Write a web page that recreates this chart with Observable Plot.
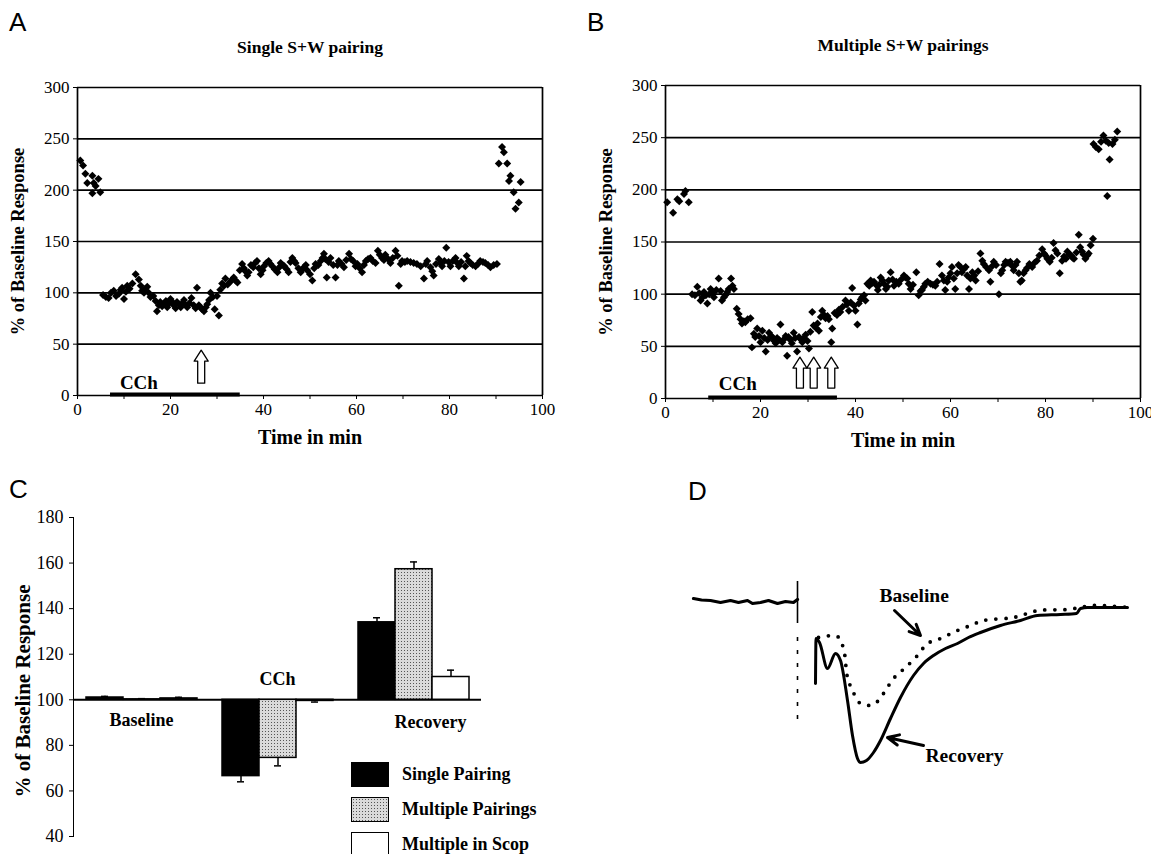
<!DOCTYPE html>
<html>
<head>
<meta charset="utf-8">
<script src="https://cdn.jsdelivr.net/npm/d3@7"></script>
<script src="https://cdn.jsdelivr.net/npm/@observablehq/plot@0.6"></script>
<style>
  html, body { margin: 0; padding: 0; background: white; }
  #fig { position: relative; width: 1151px; height: 854px; overflow: hidden; font-family: "Liberation Serif", serif; color: black; }
  .panel { position: absolute; }
  .letter { position: absolute; font-family: "Liberation Sans", Arial, sans-serif; font-size: 26px; line-height: 1; }
  .leg { position: absolute; font-family: "Liberation Serif", serif; font-weight: bold; font-size: 18px; line-height: 1; white-space: nowrap; }
  .sw { position: absolute; width: 38px; height: 24px; border: 1.5px solid black; box-sizing: border-box; }
  .ylab { position: absolute; font-family: "Liberation Serif", serif; font-weight: bold; white-space: nowrap; transform: translate(-50%, -50%) rotate(-90deg); line-height: 1; }
</style>
</head>
<body>
<div id="fig">
  <div class="letter" style="left:9px;top:9px">A</div>
  <div class="letter" style="left:587px;top:9px">B</div>
  <div class="letter" style="left:9px;top:476px">C</div>
  <div class="letter" style="left:688px;top:478px">D</div>
  <div class="ylab" style="left:23px;top:691px;font-size:21px">% of Baseline Response</div>
</div>
<script>
// ---------------- Panel A data: Single S+W pairing ----------------
const aTime = [0.6,1.2,1.7,2.1,3.2,3.5,3.9,4.5,3.2,4.9,
5.5,6.1,6.7,7.2,7.8,8.3,8.9,9.3,9.6,10.0,10.4,10.7,11.2,11.8,12.5,13.2,13.6,13.9,14.3,14.6,15.0,15.3,15.7,16.3,16.8,17.1,17.5,17.8,18.2,18.6,
19.0,19.3,19.7,20.0,20.4,20.7,21.1,21.4,21.8,22.2,22.6,22.9,23.3,23.6,24.1,24.5,25.0,25.4,25.7,26.1,26.4,26.8,27.2,27.6,27.9,28.3,28.6,29.1,29.5,30.0,
30.4,30.7,31.1,31.5,31.8,32.3,32.9,33.3,33.6,34.0,34.4,34.9,35.4,35.8,36.1,36.5,36.8,37.3,37.8,38.2,38.6,39.0,39.4,39.8,40.1,40.6,41.1,41.5,41.9,42.4,
43.0,43.4,43.7,44.1,44.5,45.0,45.4,45.8,46.2,46.6,46.9,47.5,48.0,48.4,48.7,49.1,49.4,50.0,50.5,50.9,51.2,51.8,52.3,52.7,53.0,53.3,53.6,54.0,54.4,55.0,
55.5,55.9,56.2,56.8,57.3,57.8,58.4,58.8,59.3,59.8,60.2,60.7,61.2,61.6,62.0,62.5,63.0,63.5,64.1,64.6,65.0,65.5,65.9,66.2,66.8,67.3,67.8,68.4,68.8,69.1,
69.5,69.8,70.4,70.9,71.6,72.3,73.0,73.8,74.5,74.9,75.2,75.9,76.3,76.6,77.1,77.7,78.0,78.4,78.9,79.3,79.8,80.2,80.7,81.3,81.7,82.0,82.5,83.1,83.4,83.7,
84.1,84.5,85.0,85.6,86.1,86.6,87.2,87.7,88.3,88.8,89.5,90.2,
91.3,91.7,90.6,92.4,93.1,92.8,95.3,93.8,94.9,94.2];
const aValue = [229,224,216,207,214,207,204,211,197,198,
98,96,95,100,102,97,99,103,105,94,101,107,104,109,118,113,107,102,100,104,106,100,96,97,92,82,88,91,87,89,
92,86,90,94,91,88,85,91,89,86,90,93,88,86,90,95,88,85,105,88,86,84,82,86,89,93,100,96,84,97,
78,103,109,107,114,108,111,113,115,112,110,122,128,124,121,117,120,127,125,129,131,124,118,122,126,129,131,128,126,123,
120,125,129,127,126,123,120,130,134,131,129,124,120,123,125,127,122,118,112,124,128,127,131,134,138,133,115,130,134,127,
115,127,131,128,125,132,138,133,131,126,128,124,120,127,131,133,134,131,129,141,137,134,132,137,133,129,134,141,136,107,
128,131,130,131,130,129,128,126,114,128,131,125,121,117,128,133,129,126,131,144,130,126,131,134,129,126,130,114,126,136,
131,129,127,126,128,131,130,129,127,125,127,128,
242,237,226,226,214,209,208,198,188,182];

// ---------------- Panel B data: Multiple S+W pairings ----------------
const bTime = [0.35,1.6,2.5,2.9,3.9,4.2,4.9,
5.6,6.2,6.7,7.1,7.4,7.8,8.1,8.5,8.8,9.2,9.5,9.9,10.2,10.7,11.2,11.6,11.9,12.3,12.6,13.0,13.3,13.8,14.1,14.4,15.0,15.4,15.8,16.1,16.5,16.8,17.3,17.9,18.2,
18.6,18.9,19.3,19.7,20.0,20.4,20.8,21.1,21.5,21.8,22.2,22.5,22.9,23.2,23.5,23.9,24.2,24.6,25.0,25.3,25.6,25.9,26.3,26.6,27.0,27.3,27.7,28.1,28.4,28.8,
29.1,29.5,29.9,30.2,30.5,30.9,31.2,31.6,32.0,32.3,32.7,33.0,33.4,33.7,34.1,34.4,34.9,35.1,35.6,36.1,36.5,36.8,37.3,37.9,38.2,38.6,39.0,39.3,39.7,40.0,
40.4,40.7,41.1,41.4,41.8,42.1,42.5,42.9,43.2,43.6,43.9,44.3,44.7,45.0,45.3,45.7,46.0,46.4,46.7,47.0,47.4,47.8,48.1,48.6,49.1,49.6,50.2,50.5,50.9,51.2,
51.6,52.1,52.8,53.3,53.7,54.0,54.4,54.7,55.2,55.8,56.3,56.8,57.2,57.7,58.2,58.6,58.9,59.3,59.6,60.0,60.3,60.7,61.0,61.4,61.7,62.1,62.4,62.8,63.2,63.5,
63.9,64.2,64.6,65.0,65.3,65.8,66.3,66.7,67.0,67.5,68.1,68.4,68.8,69.1,69.6,70.2,70.6,70.9,71.3,71.6,72.1,72.6,73.0,73.3,73.7,74.0,74.4,74.7,75.0,75.4,
75.8,76.1,76.6,77.2,77.7,78.2,78.7,79.3,79.7,80.0,80.4,80.9,81.3,81.7,82.1,82.5,83.0,83.5,83.9,84.3,84.6,85.0,85.4,85.7,86.0,86.5,87.0,87.3,87.7,88.0,
88.4,88.8,89.1,89.5,90.0,
90.1,90.6,91.2,91.7,92.2,92.7,93.3,93.5,93.0,94.1,94.6,95.1];
const bValue = [188,178,191,189,196,199,188,
100,99,107,101,94,97,102,99,91,100,105,101,97,104,115,103,94,97,99,102,105,115,108,105,86,81,76,72,74,73,76,77,49,
62,59,67,60,54,65,58,45,56,63,60,59,55,53,58,56,71,54,57,60,41,59,56,53,63,58,45,59,57,54,
58,61,55,48,64,83,70,68,72,65,78,84,80,77,79,76,54,67,82,80,85,83,88,94,90,84,92,106,89,84,
71,91,95,97,99,94,110,108,113,111,112,109,104,109,116,113,110,105,107,113,121,114,108,112,110,114,118,116,115,110,
105,109,121,99,103,104,107,110,112,110,109,108,112,129,118,113,104,112,116,120,126,115,105,120,128,126,121,124,126,118,
105,115,121,118,113,122,139,132,129,126,123,112,127,131,128,100,120,123,128,131,130,131,127,123,128,131,120,112,113,120,
123,125,129,126,130,132,137,143,139,137,134,131,135,149,142,139,120,132,136,134,141,138,137,135,134,140,157,145,141,138,
134,137,139,147,153,
244,241,239,246,252,247,245,229,194,244,248,256];

const yTicks = [0, 50, 100, 150, 200, 250, 300];
const cchA = [7.1, 35];          // carbachol application, min
const cchB = [9.1, 36.2];
const pairA = [26.6];            // S+W pairing times, min
const pairB = [28.3, 31.2, 34.9];

// ---------------- Panel C data ----------------
const groups = ["Baseline", "CCh", "Recovery"];
const seriesNames = ["Single Pairing", "Multiple Pairings", "Multiple in Scop"];
const singleVals = [101, 66.5, 134];
const multipleVals = [100.2, 74.5, 157.3];
const scopVals = [100.6, 99.5, 110];
const singleErr = [0.5, 2.5, 2];
const multipleErr = [0.3, 3.5, 3.2];
const scopErr = [0.5, 0.5, 3];

// ---------------- Panel D data (time ms, amplitude mV) ----------------
const preT = [-10.4,-9.6,-8.7,-7.7,-6.7,-5.9,-5.0,-4.5,-3.7,-2.9,-2.0,-1.2,-0.4,0];
const preV = [0.18,0.15,0.14,0.10,0.14,0.10,0.14,0.08,0.10,0.14,0.08,0.12,0.10,0.16];
const recT = [1.8,1.85,2.2,3.0,3.8,4.3,5.0,5.5,6.0,6.3,6.9,7.6,8.3,9.3,10.3,11.6,12.6,13.6,14.8,16.0,17.1,18.3,20.3,22.3,24.0,26.3,27.9,28.3,29.0,33.0];
const recV = [-1.52,-0.62,-0.7,-1.22,-0.92,-1.06,-1.86,-2.56,-3.02,-3.1,-3.06,-2.9,-2.66,-2.22,-1.8,-1.36,-1.12,-0.96,-0.82,-0.72,-0.6,-0.5,-0.36,-0.26,-0.16,-0.14,-0.12,-0.02,0.0,0.0];
const baseT = [2.1,4.0,4.6,5.0,5.5,6.3,7.6,8.6,9.6,10.8,12.0,13.0,14.3,16.0,17.3,18.6,21.6,24.1,27.0,29.6,33.0];
const baseV = [-0.6,-0.58,-0.82,-1.4,-1.66,-1.92,-1.94,-1.72,-1.42,-1.2,-0.96,-0.72,-0.62,-0.46,-0.36,-0.26,-0.2,-0.06,-0.04,0.04,0.0];
const artifactSolid = [0.52, -0.32];
const artifactDotted = [-0.6, -2.32];
const noteLabels = ["Baseline", "Recovery"];
const noteTextT = [8.2, 12.8];
const noteTextV = [0.24, -2.96];
const noteFromT = [9.7, 12.6];
const noteFromV = [-0.06, -2.76];
const noteToT = [12.3, 9.0];
const noteToV = [-0.56, -2.6];

// ---------------- helpers ----------------
const fig = document.getElementById("fig");
function place(svg, left, top) {
  svg.classList.add("panel");
  svg.style.left = left + "px";
  svg.style.top = top + "px";
  fig.appendChild(svg);
}
const hollowArrow = {
  draw(context, l) {
    const w = 3.5, hw = 7, hl = 11;
    context.moveTo(-w, 0);
    context.lineTo(-w, -l + hl);
    context.lineTo(-hw, -l + hl);
    context.lineTo(0, -l);
    context.lineTo(hw, -l + hl);
    context.lineTo(w, -l + hl);
    context.lineTo(w, 0);
    context.closePath();
  }
};
const baseStyle = {fontFamily: "Liberation Serif", fontSize: "17px", color: "black", background: "transparent"};

function scatterPanel({time, value, cch, pairs, title, width, marginLeft, marginRight, marginTop, marginBottom, height, cchX, cchY, arrowBase, arrowLen}) {
  const pts = time.map((t, i) => ({t, v: value[i]}));
  return Plot.plot({
    width, height, marginLeft, marginRight, marginTop, marginBottom,
    style: {...baseStyle, overflow: "hidden"},
    x: {domain: [0, 100], ticks: 10, tickSize: 4, tickPadding: 3, tickFormat: d => d % 20 === 0 ? d : "", label: null},
    y: {domain: [0, 300], ticks: 6, tickSize: 4, tickPadding: 4, label: null},
    marks: [
      Plot.ruleY(yTicks, {stroke: "black", strokeWidth: 1.7}),
      Plot.ruleX([0, 100], {stroke: "black", strokeWidth: 1.7}),
      Plot.ruleY([cch], {x1: d => d[0], x2: d => d[1], y: 0, stroke: "black", strokeWidth: 4, dy: -1}),
      Plot.text(["CCh"], {x: cchX, y: cchY, text: d => d, fontWeight: "bold", fontSize: 19}),
      Plot.vector(pairs, {x: d => d, y: arrowBase, length: arrowLen, anchor: "start", shape: hollowArrow, fill: "white", stroke: "black", strokeWidth: 1.3}),
      Plot.dot(pts, {x: "t", y: "v", symbol: "diamond2", r: 3.6, fill: "black", stroke: null}),
      Plot.text([title], {frameAnchor: "top", text: d => d, dy: -40, lineAnchor: "middle", fontWeight: "bold", fontSize: 17.5}),
      Plot.text(["% of Baseline Response"], {frameAnchor: "left", text: d => d, rotate: -90, textAnchor: "middle", lineAnchor: "middle", dx: -59, fontWeight: "bold", fontSize: 18.5}),
      Plot.text(["Time in min"], {frameAnchor: "bottom", text: d => d, dy: 42, lineAnchor: "middle", fontWeight: "bold", fontSize: 20})
    ]
  });
}

// Panel A
place(scatterPanel({time: aTime, value: aValue, cch: cchA, pairs: pairA, title: "Single S+W pairing",
  width: 560, height: 460, marginLeft: 77, marginRight: 18, marginTop: 87, marginBottom: 65,
  cchX: 13.2, cchY: 12, arrowBase: 12, arrowLen: 33}), 0, 0);

// Panel B
place(scatterPanel({time: bTime, value: bValue, cch: cchB, pairs: pairB, title: "Multiple S+W pairings",
  width: 571, height: 460, marginLeft: 85, marginRight: 11, marginTop: 85, marginBottom: 62,
  cchX: 15.2, cchY: 14, arrowBase: 10, arrowLen: 31}), 580, 0);

// Panel C
const rows = [];
groups.forEach((g, gi) => {
  [[singleVals, singleErr], [multipleVals, multipleErr], [scopVals, scopErr]].forEach(([vals, errs], si) => {
    const v = vals[gi], e = errs[gi];
    rows.push({group: g, series: seriesNames[si], value: v, errEnd: v >= 100 ? v + e : v - e});
  });
});
const groupMin = g => Math.min(...rows.filter(r => r.group === g).map(r => r.value));
const plotC = Plot.plot({
  width: 620, height: 384, marginLeft: 73, marginRight: 139, marginTop: 47, marginBottom: 18,
  style: {...baseStyle, fontSize: "18px"},
  facet: {data: rows, x: "group"},
  fx: {domain: groups, padding: 0, axis: null, label: null},
  x: {domain: seriesNames, paddingInner: 0, paddingOuter: 0.29, axis: null},
  y: {domain: [40, 180], ticks: 7, tickSize: 4, tickPadding: 6, line: true, label: null},
  color: {domain: seriesNames, range: ["black", "url(#stip)", "white"]},
  marks: [
    Plot.ruleY([100], {stroke: "black", strokeWidth: 2}),
    Plot.barY(rows, {x: "series", y1: 100, y2: "value", fill: "series", stroke: "black", strokeWidth: 1.5}),
    Plot.ruleX(rows, {x: "series", y1: "value", y2: "errEnd", stroke: "black", strokeWidth: 1.5}),
    Plot.tickY(rows, {x: "series", y: "errEnd", stroke: "black", strokeWidth: 1.5, insetLeft: 15, insetRight: 15}),
    Plot.text(rows, {filter: r => r.series === seriesNames[1] && groupMin(r.group) < 100, y: 100, text: "group", dy: -21, fontWeight: "bold", fontSize: 18, lineAnchor: "middle"}),
    Plot.text(rows, {filter: r => r.series === seriesNames[1] && groupMin(r.group) >= 100 && r.group !== "Recovery", y: 100, text: "group", dy: 20, fontWeight: "bold", fontSize: 18, lineAnchor: "middle"}),
    Plot.text(rows, {filter: r => r.series === seriesNames[1] && r.group === "Recovery", y: 100, text: "group", dy: 22, dx: 17, fontWeight: "bold", fontSize: 18, lineAnchor: "middle"})
  ]
});
d3.select(plotC).insert("defs", ":first-child").html(
  '<pattern id="stip" width="3" height="3" patternUnits="userSpaceOnUse"><rect width="3" height="3" fill="#dadada"/><rect width="1" height="1" fill="#555"/></pattern>'
);
place(plotC, 0, 470);

// Legend for C
const legTop = [762, 797, 832];
const legFill = ["black", "#c8c8c8", "white"];
seriesNames.forEach((s, i) => {
  const sw = document.createElement("div");
  sw.className = "sw";
  sw.style.left = "351px"; sw.style.top = legTop[i] + "px"; sw.style.height = (i === 2 ? 26 : 25) + "px";
  if (i === 1) {
    sw.style.background = "radial-gradient(circle, #555 35%, transparent 40%) 0 0 / 3px 3px, #dadada";
  } else sw.style.background = legFill[i];
  fig.appendChild(sw);
  const lb = document.createElement("div");
  lb.className = "leg";
  lb.style.left = "402px"; lb.style.top = (legTop[i] + 3) + "px";
  lb.textContent = s;
  fig.appendChild(lb);
});

// Panel D
const pre = preT.map((t, i) => ({t, v: preV[i]}));
const rec = recT.map((t, i) => ({t, v: recV[i]}));
const bas = baseT.map((t, i) => ({t, v: baseV[i]}));
const notes = noteLabels.map((s, i) => ({s, tx: noteTextT[i], ty: noteTextV[i], x1: noteFromT[i], y1: noteFromV[i], x2: noteToT[i], y2: noteToV[i]}));
const plotD = Plot.plot({
  width: 471, height: 220, margin: 0,
  style: {...baseStyle, fontSize: "19px"},
  x: {domain: [-11.7, 35.4], axis: null},
  y: {domain: [-3.46, 0.94], axis: null},
  marks: [
    Plot.line(pre, {x: "t", y: "v", stroke: "black", strokeWidth: 3.2, curve: "linear"}),
    Plot.ruleX([0], {y1: artifactSolid[0], y2: artifactSolid[1], stroke: "black", strokeWidth: 1.6}),
    Plot.ruleX([0], {y1: artifactDotted[0], y2: artifactDotted[1], stroke: "black", strokeWidth: 1.6, strokeDasharray: "4,9"}),
    Plot.line(bas, {x: "t", y: "v", stroke: "black", strokeWidth: 3.8, strokeDasharray: "0,10", strokeLinecap: "round", curve: "catmull-rom"}),
    Plot.line(rec, {x: "t", y: "v", stroke: "black", strokeWidth: 3, curve: "monotone-x"}),
    Plot.arrow(notes, {x1: "x1", y1: "y1", x2: "x2", y2: "y2", stroke: "black", strokeWidth: 3, headLength: 14, headAngle: 50}),
    Plot.text(notes, {x: "tx", y: "ty", text: "s", textAnchor: "start", fontWeight: "bold", fontSize: 19.5, lineAnchor: "middle"})
  ]
});
place(plotD, 680, 560);
</script>
</body>
</html>
